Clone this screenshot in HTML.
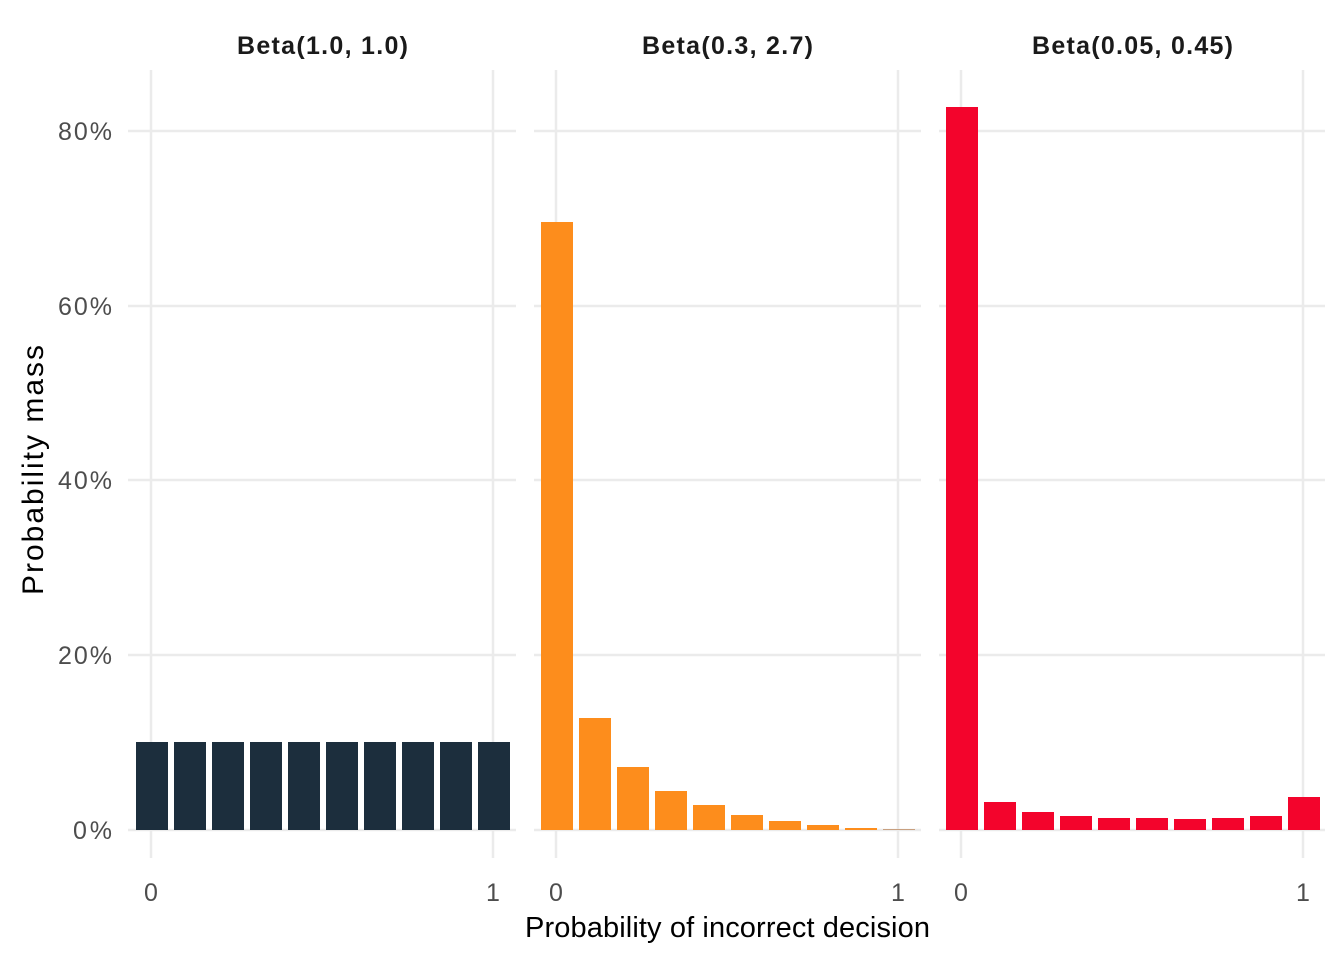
<!DOCTYPE html>
<html><head><meta charset="utf-8"><style>body{margin:0;background:#fff}svg{display:block}</style></head><body>
<svg width="1344" height="960" xmlns="http://www.w3.org/2000/svg" font-family="Liberation Sans, Arial, sans-serif">
<rect width="1344" height="960" fill="#fff"/>
<g stroke="#ebebeb" stroke-width="2.5">
<line x1="128" x2="516" y1="830" y2="830"/><line x1="128" x2="516" y1="655" y2="655"/><line x1="128" x2="516" y1="480" y2="480"/><line x1="128" x2="516" y1="306" y2="306"/><line x1="128" x2="516" y1="131" y2="131"/>
<line x1="151" x2="151" y1="70" y2="858"/><line x1="493" x2="493" y1="70" y2="858"/>
<line x1="534" x2="921" y1="830" y2="830"/><line x1="534" x2="921" y1="655" y2="655"/><line x1="534" x2="921" y1="480" y2="480"/><line x1="534" x2="921" y1="306" y2="306"/><line x1="534" x2="921" y1="131" y2="131"/>
<line x1="556" x2="556" y1="70" y2="858"/><line x1="898" x2="898" y1="70" y2="858"/>
<line x1="939" x2="1325" y1="830" y2="830"/><line x1="939" x2="1325" y1="655" y2="655"/><line x1="939" x2="1325" y1="480" y2="480"/><line x1="939" x2="1325" y1="306" y2="306"/><line x1="939" x2="1325" y1="131" y2="131"/>
<line x1="961" x2="961" y1="70" y2="858"/><line x1="1303" x2="1303" y1="70" y2="858"/>
</g>
<g fill="#1c2e3d">
<rect x="136" y="742" width="32" height="88"/><rect x="174" y="742" width="32" height="88"/><rect x="212" y="742" width="32" height="88"/><rect x="250" y="742" width="32" height="88"/><rect x="288" y="742" width="32" height="88"/><rect x="326" y="742" width="32" height="88"/><rect x="364" y="742" width="32" height="88"/><rect x="402" y="742" width="32" height="88"/><rect x="440" y="742" width="32" height="88"/><rect x="478" y="742" width="32" height="88"/>
</g>
<g fill="#fd8d1c">
<rect x="541" y="222" width="32" height="608"/><rect x="579" y="718" width="32" height="112"/><rect x="617" y="767" width="32" height="63"/><rect x="655" y="791" width="32" height="39"/><rect x="693" y="805" width="32" height="25"/><rect x="731" y="815" width="32" height="15"/><rect x="769" y="821" width="32" height="9"/><rect x="807" y="825" width="32" height="5"/><rect x="845" y="828" width="32" height="2"/><rect x="883" y="829" width="32" height="1" fill="#c8a080"/>
</g>
<g fill="#f3042c">
<rect x="946" y="107" width="32" height="723"/><rect x="984" y="802" width="32" height="28"/><rect x="1022" y="812" width="32" height="18"/><rect x="1060" y="816" width="32" height="14"/><rect x="1098" y="818" width="32" height="12"/><rect x="1136" y="818" width="32" height="12"/><rect x="1174" y="819" width="32" height="11"/><rect x="1212" y="818" width="32" height="12"/><rect x="1250" y="816" width="32" height="14"/><rect x="1288" y="797" width="32" height="33"/>
</g>
<g font-size="25" fill="#4d4d4d" text-anchor="end">
<text x="112" y="839" textLength="39">0%</text><text x="112" y="664" textLength="54">20%</text><text x="112" y="489" textLength="54">40%</text><text x="112" y="315" textLength="54">60%</text><text x="112" y="140" textLength="54">80%</text>
</g>
<g font-size="25" fill="#4d4d4d" text-anchor="middle">
<text x="151" y="901">0</text><text x="493" y="901">1</text><text x="556" y="901">0</text><text x="898" y="901">1</text><text x="961" y="901">0</text><text x="1303" y="901">1</text>
</g>
<g font-size="25" font-weight="bold" fill="#1a1a1a">
<text x="237" y="54" textLength="171">Beta(1.0, 1.0)</text><text x="642" y="54" textLength="171">Beta(0.3, 2.7)</text><text x="1032" y="54" textLength="201">Beta(0.05, 0.45)</text>
</g>
<text x="525" y="937" font-size="29" fill="#000" textLength="405">Probability of incorrect decision</text>
<text transform="translate(43,595) rotate(-90)" font-size="30" fill="#000" textLength="250">Probability mass</text>
</svg>
</body></html>
